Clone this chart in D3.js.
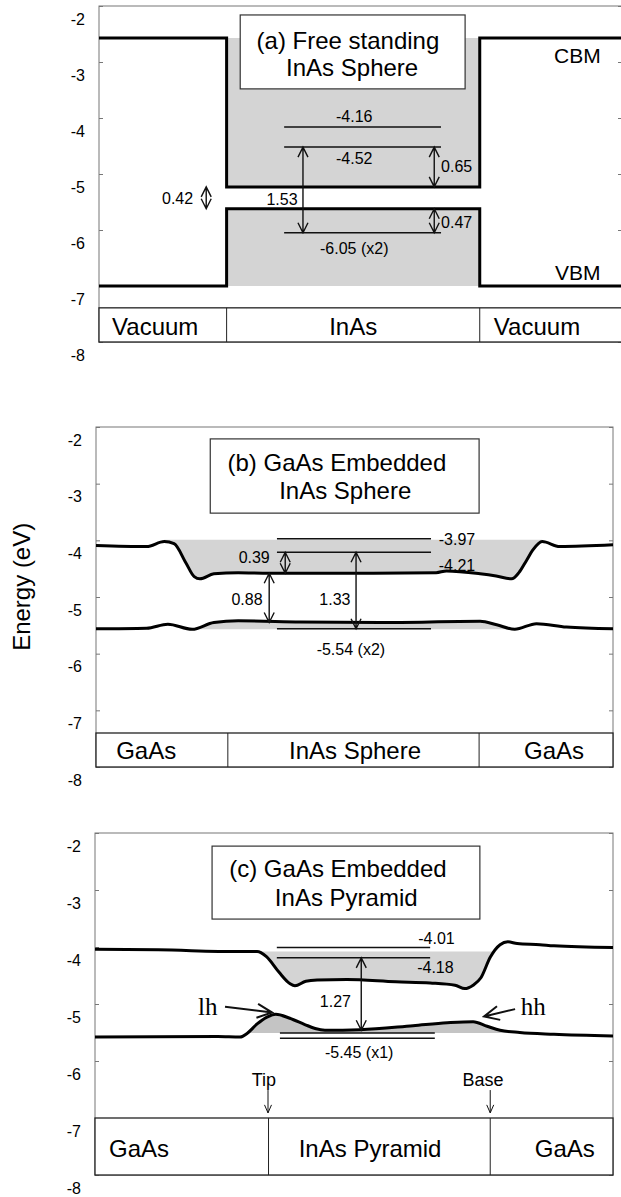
<!DOCTYPE html>
<html>
<head>
<meta charset="utf-8">
<script src="https://cdn.jsdelivr.net/npm/d3@7"></script>
<style>
    body { margin: 0; background: #fff; }
    svg { display: block; }
    text { font-family: "Liberation Sans", Arial, sans-serif; fill: #000; }
</style>
</head>
<body>
<svg id="chart" width="621" height="1197"></svg>
<script>
// energy axis (eV), same for all three panels
const yTicks = [-2, -3, -4, -5, -6, -7, -8];

// (a) free standing sphere: square well, position in % of the panel width
const aBandPos = [0, 24.4, 72.8, 100];
const aCbmE = [-2.57, -5.23, -2.57, -2.57];
const aVbmE = [-7.0, -5.62, -7.0, -7.0];
const aLevels = [
    { e: -4.16, from: 35.4, to: 65.4 },
    { e: -4.52, from: 35.4, to: 65.4 },
    { e: -6.05, from: 35.4, to: 65.4 }
];
const aGaps = [
    { x: 39.0, from: -4.52, to: -6.05 },
    { x: 64.1, from: -4.52, to: -5.23 },
    { x: 64.1, from: -5.62, to: -6.05 },
    { x: 20.5, from: -5.23, to: -5.62 }
];
const aNotes = [
    { text: "-4.16", x: 48.8, e: -4.07, anchor: "middle" },
    { text: "-4.52", x: 48.8, e: -4.82, anchor: "middle" },
    { text: "-6.05 (x2)", x: 48.8, e: -6.43, anchor: "middle" },
    { text: "1.53", x: 35.0, e: -5.55, anchor: "middle" },
    { text: "0.65", x: 65.4, e: -4.96, anchor: "start" },
    { text: "0.47", x: 65.4, e: -5.96, anchor: "start" },
    { text: "0.42", x: 18.0, e: -5.54, anchor: "end" },
    { text: "CBM", x: 87.0, e: -3.02, anchor: "start", size: 21 },
    { text: "VBM", x: 87.2, e: -6.89, anchor: "start", size: 21 }
];
const aRegions = ["Vacuum", "InAs", "Vacuum"];
const aTitle = ["(a) Free standing", "InAs Sphere"];

// (b) GaAs embedded sphere
const bCbPos = [0, 9.8, 13.2, 15.1, 17.4, 19.0, 20.1, 22.8, 27.5, 33.5, 50.3, 65.8, 67.8, 74.3, 77.4, 80.4, 81.8, 83.3, 84.5, 86.3, 89.7, 100];
const bCbE = [-4.09, -4.11, -4.02, -4.06, -4.40, -4.64, -4.68, -4.59, -4.57, -4.58, -4.58, -4.57, -4.54, -4.59, -4.63, -4.68, -4.57, -4.35, -4.17, -4.02, -4.11, -4.08];
const bVbPos = [0, 9.8, 13.9, 18.6, 22.8, 27.5, 39.5, 54.9, 74.3, 77.5, 81.0, 85.2, 91.0, 100];
const bVbE = [-5.56, -5.55, -5.48, -5.57, -5.45, -5.42, -5.44, -5.45, -5.43, -5.49, -5.57, -5.47, -5.53, -5.56];
const bLevels = [
    { e: -3.97, from: 35.0, to: 64.8 },
    { e: -4.21, from: 35.0, to: 64.8 },
    { e: -5.56, from: 35.0, to: 64.8 }
];
const bGaps = [
    { x: 36.6, from: -4.21, to: -4.58 },
    { x: 33.5, from: -4.58, to: -5.45 },
    { x: 50.3, from: -4.21, to: -5.56 }
];
const bNotes = [
    { text: "0.39", x: 30.6, e: -4.40, anchor: "middle" },
    { text: "0.88", x: 29.2, e: -5.14, anchor: "middle" },
    { text: "1.33", x: 46.2, e: -5.14, anchor: "middle" },
    { text: "-3.97", x: 66.3, e: -4.08, anchor: "start" },
    { text: "-4.21", x: 66.3, e: -4.54, anchor: "start" },
    { text: "-5.54 (x2)", x: 49.3, e: -6.02, anchor: "middle" }
];
const bRegions = ["GaAs", "InAs Sphere", "GaAs"];
const bTitle = ["(b) GaAs Embedded", "InAs Sphere"];

// (c) GaAs embedded pyramid
const cCbPos = [0, 12.2, 27.6, 31.3, 33.1, 35.5, 37.6, 38.6, 40.7, 42.9, 48.6, 58.1, 64.7, 69.5, 71.4, 73.0, 74.5, 76.3, 78.2, 79.7, 81.5, 85.9, 88.6, 100];
const cCbE = [-4.04, -4.05, -4.08, -4.08, -4.17, -4.44, -4.64, -4.68, -4.60, -4.58, -4.57, -4.61, -4.63, -4.67, -4.73, -4.67, -4.54, -4.18, -3.96, -3.91, -3.94, -3.96, -3.98, -4.01];
const cVbPos = [0, 23.7, 28.0, 29.3, 31.3, 33.2, 34.9, 37.6, 40.5, 42.5, 44.4, 51.2, 61.4, 68.0, 73.0, 75.7, 78.2, 82.0, 88.6, 100];
const cVbE = [-5.58, -5.57, -5.58, -5.52, -5.35, -5.23, -5.18, -5.25, -5.36, -5.43, -5.46, -5.45, -5.38, -5.33, -5.31, -5.39, -5.46, -5.50, -5.53, -5.56];
const cLevels = [
    { e: -4.01, from: 35.1, to: 64.7 },
    { e: -4.19, from: 35.1, to: 64.7 },
    { e: -5.51, from: 35.7, to: 65.6 },
    { e: -5.60, from: 35.7, to: 65.6 }
];
const cGaps = [
    { x: 51.4, from: -4.19, to: -5.46 }
];
const cNotes = [
    { text: "-4.01", x: 62.4, e: -3.95, anchor: "start" },
    { text: "-4.18", x: 62.2, e: -4.45, anchor: "start" },
    { text: "1.27", x: 46.4, e: -5.05, anchor: "middle" },
    { text: "-5.45 (x1)", x: 51.0, e: -5.95, anchor: "middle" },
    { text: "lh", x: 19.9, e: -5.19, anchor: "start", size: 25, serif: true },
    { text: "hh", x: 82.2, e: -5.19, anchor: "start", size: 25, serif: true },
    { text: "Tip", x: 32.6, e: -6.44, anchor: "middle", size: 18 },
    { text: "Base", x: 74.9, e: -6.44, anchor: "middle", size: 18 }
];
const cPointers = [
    { x1: 25.1, e1: -5.05, x2: 34.2, e2: -5.15, thick: true },
    { x1: 81.1, e1: -5.09, x2: 75.1, e2: -5.22, thick: true },
    { x1: 33.4, e1: -6.51, x2: 33.4, e2: -6.91, thick: false },
    { x1: 76.3, e1: -6.51, x2: 76.3, e2: -6.91, thick: false }
];
const cRegions = ["GaAs", "InAs Pyramid", "GaAs"];
const cTitle = ["(c) GaAs Embedded", "InAs Pyramid"];

const svg = d3.select("#chart");
const GRAY = "#d4d4d4";

const panels = [
    {
        id: "a",
        frame: { left: 99, top: 6, right: 622, bottom: 342 },
        curve: d3.curveStepAfter,
        bands: [d3.zip(aBandPos, aCbmE), d3.zip(aBandPos, aVbmE)],
        fills: [
            { pts: [[24.4, -5.23], [72.8, -5.23]], level: -2.57, range: [24.4, 72.8], color: GRAY },
            { pts: [[24.4, -5.62], [72.8, -5.62]], level: -7.0, range: [24.4, 72.8], color: GRAY }
        ],
        levels: aLevels, gaps: aGaps, notes: aNotes, pointers: [],
        regions: aRegions, regionEdges: [24.4, 72.8], regionTop: -7.39, regionBase: -7.875,
        regionLabelX: [{ x: 2.5, anchor: "start" }, { x: 48.6, anchor: "middle" }, { x: 75.5, anchor: "start" }],
        title: aTitle, titleBox: { x0: 27.0, x1: 70.0, e0: -2.16, e1: -3.48 },
        titleLines: [{ x: 47.6, e: -2.77 }, { x: 48.4, e: -3.25 }]
    },
    {
        id: "b",
        frame: { left: 96, top: 427, right: 613, bottom: 767 },
        curve: d3.curveMonotoneX,
        bands: [d3.zip(bCbPos, bCbE), d3.zip(bVbPos, bVbE)],
        fills: [
            { pts: d3.zip(bCbPos, bCbE), level: -3.99, range: [13.2, 86.3], color: GRAY },
            { pts: d3.zip(bVbPos, bVbE), level: -5.57, range: [18.6, 81.0], color: GRAY }
        ],
        levels: bLevels, gaps: bGaps, notes: bNotes, pointers: [],
        regions: bRegions, regionEdges: [25.5, 74.1], regionTop: -7.40, regionBase: -7.86,
        regionLabelX: [{ x: 3.9, anchor: "start" }, { x: 50.1, anchor: "middle" }, { x: 82.8, anchor: "start" }],
        title: bTitle, titleBox: { x0: 22.1, x1: 74.1, e0: -2.21, e1: -3.52 },
        titleLines: [{ x: 46.6, e: -2.78 }, { x: 48.2, e: -3.27 }],
        yLabel: "Energy (eV)"
    },
    {
        id: "c",
        frame: { left: 95, top: 833, right: 613, bottom: 1175 },
        curve: d3.curveMonotoneX,
        bands: [d3.zip(cCbPos, cCbE), d3.zip(cVbPos, cVbE)],
        fills: [
            { pts: d3.zip(cCbPos, cCbE), level: -4.08, range: [31.3, 77.2], color: GRAY },
            { pts: d3.zip(cVbPos, cVbE), level: -5.51, range: [29.5, 79.5], color: "#c4c4c4" }
        ],
        levels: cLevels, gaps: cGaps, notes: cNotes, pointers: cPointers,
        regions: cRegions, regionEdges: [33.5, 76.3], regionTop: -7.0, regionBase: -7.68,
        regionLabelX: [{ x: 2.7, anchor: "start" }, { x: 53.1, anchor: "middle" }, { x: 84.9, anchor: "start" }],
        title: cTitle, titleBox: { x0: 22.6, x1: 74.3, e0: -2.23, e1: -3.51 },
        titleLines: [{ x: 46.9, e: -2.77 }, { x: 48.5, e: -3.28 }]
    }
];

panels.forEach(renderPanel);

function renderPanel(cfg) {
    const f = cfg.frame;
    const x = d3.scaleLinear().domain([0, 100]).range([f.left, f.right]);
    const y = d3.scaleLinear().domain([-2, -8]).range([f.top, f.bottom]);
    const g = svg.append("g");

    // gray fills of the well, each clipped to its own x range
    cfg.fills.forEach((fl, i) => {
        const id = `fill-${cfg.id}-${i}`;
        svg.append("clipPath").attr("id", id)
            .append("rect")
            .attr("x", x(fl.range[0]))
            .attr("y", f.top)
            .attr("width", x(fl.range[1]) - x(fl.range[0]))
            .attr("height", f.bottom - f.top);

        const area = d3.area()
            .curve(cfg.id === "a" ? d3.curveLinear : d3.curveMonotoneX)
            .x((d) => x(d[0]))
            .y0(y(fl.level))
            .y1((d) => y(d[1]));

        g.append("path")
            .datum(fl.pts)
            .attr("clip-path", `url(#${id})`)
            .attr("fill", fl.color)
            .attr("d", area);
    });

    // frame
    g.append("rect")
        .attr("x", f.left).attr("y", f.top)
        .attr("width", f.right - f.left).attr("height", f.bottom - f.top)
        .attr("fill", "none")
        .attr("stroke", "#777")
        .attr("stroke-width", 1);

    // axes with inward ticks, labels sit a bit below their ticks like the original
    const left = g.append("g")
        .attr("transform", `translate(${f.left},0)`)
        .call(d3.axisLeft(y).tickValues(yTicks).tickSize(-4).tickPadding(14).tickFormat((d) => String(d)));
    left.selectAll("text")
        .attr("dy", 18)
        .attr("font-size", 16)
        .attr("fill", "#000");

    const right = g.append("g")
        .attr("transform", `translate(${f.right},0)`)
        .call(d3.axisRight(y).tickValues(yTicks).tickSize(-4).tickFormat(""));

    g.selectAll(".domain").remove();
    g.selectAll(".tick line").attr("stroke", "#777");
    left.attr("font-family", null);
    right.attr("font-family", null);

    // title box
    const tb = cfg.titleBox;
    g.append("rect")
        .attr("x", x(tb.x0)).attr("y", y(tb.e0))
        .attr("width", x(tb.x1) - x(tb.x0)).attr("height", y(tb.e1) - y(tb.e0))
        .attr("fill", "#fff")
        .attr("stroke", "#333")
        .attr("stroke-width", 1.2);

    g.selectAll(".title-line")
        .data(cfg.title)
        .join("text")
        .attr("x", (d, i) => x(cfg.titleLines[i].x))
        .attr("y", (d, i) => y(cfg.titleLines[i].e))
        .attr("text-anchor", "middle")
        .attr("font-size", 24)
        .text((d) => d);

    // energy levels
    g.selectAll(".level")
        .data(cfg.levels)
        .join("line")
        .attr("x1", (d) => x(d.from))
        .attr("x2", (d) => x(d.to))
        .attr("y1", (d) => y(d.e))
        .attr("y2", (d) => y(d.e))
        .attr("stroke", "#111")
        .attr("stroke-width", 1.5);

    // band edges
    const line = d3.line()
        .curve(cfg.curve)
        .x((d) => x(d[0]))
        .y((d) => y(d[1]));

    g.selectAll(".band")
        .data(cfg.bands)
        .join("path")
        .attr("fill", "none")
        .attr("stroke", "#000")
        .attr("stroke-width", 3)
        .attr("stroke-linejoin", "miter")
        .attr("d", line);

    // double headed gap arrows
    g.selectAll(".gap")
        .data(cfg.gaps)
        .join("path")
        .attr("fill", "none")
        .attr("stroke", "#111")
        .attr("stroke-width", 1.4)
        .attr("d", (d) => gapArrow(x(d.x), y(d.from), y(d.to)));

    // single pointers (lh, hh, Tip, Base)
    g.selectAll(".pointer")
        .data(cfg.pointers)
        .join("path")
        .attr("fill", "none")
        .attr("stroke", "#111")
        .attr("stroke-width", (d) => d.thick ? 2 : 1)
        .attr("d", (d) => pointer(x(d.x1), y(d.e1), x(d.x2), y(d.e2), d.thick ? 15 : 8, d.thick ? 7 : 3.5));

    g.selectAll(".note")
        .data(cfg.notes)
        .join("text")
        .attr("x", (d) => x(d.x))
        .attr("y", (d) => y(d.e))
        .attr("text-anchor", (d) => d.anchor)
        .attr("font-size", (d) => d.size || 16)
        .style("font-family", (d) => d.serif ? "'Liberation Serif', 'Times New Roman', serif" : null)
        .text((d) => d.text);

    // material strip along the bottom
    g.append("rect")
        .attr("x", f.left).attr("y", y(cfg.regionTop))
        .attr("width", f.right - f.left).attr("height", y(-8) - y(cfg.regionTop))
        .attr("fill", "#fff")
        .attr("stroke", "#222")
        .attr("stroke-width", 1.3);

    g.selectAll(".divider")
        .data(cfg.regionEdges)
        .join("line")
        .attr("x1", (d) => x(d)).attr("x2", (d) => x(d))
        .attr("y1", y(cfg.regionTop)).attr("y2", y(-8))
        .attr("stroke", "#222")
        .attr("stroke-width", 1);

    g.selectAll(".region")
        .data(cfg.regions)
        .join("text")
        .attr("x", (d, i) => x(cfg.regionLabelX[i].x))
        .attr("y", y(cfg.regionBase))
        .attr("text-anchor", (d, i) => cfg.regionLabelX[i].anchor)
        .attr("font-size", 24)
        .text((d) => d);

    if (cfg.yLabel) {
        svg.append("text")
            .attr("transform", `translate(30, ${y(-4.82)}) rotate(-90)`)
            .attr("text-anchor", "middle")
            .attr("font-size", 24)
            .text(cfg.yLabel);
    }
}

function gapArrow(px, ya, yb) {
    const top = Math.min(ya, yb);
    const bot = Math.max(ya, yb);
    const len = Math.min(10, (bot - top) / 2);
    const w = 5;
    return `M${px},${top}L${px},${bot}` +
        `M${px - w},${top + len}L${px},${top}L${px + w},${top + len}` +
        `M${px - w},${bot - len}L${px},${bot}L${px + w},${bot - len}`;
}

function pointer(x1, y1, x2, y2, len, half) {
    const a = Math.atan2(y2 - y1, x2 - x1);
    const bx = x2 - len * Math.cos(a);
    const by = y2 - len * Math.sin(a);
    const nx = -Math.sin(a) * half;
    const ny = Math.cos(a) * half;
    return `M${x1},${y1}L${x2},${y2}` +
        `M${bx + nx},${by + ny}L${x2},${y2}L${bx - nx},${by - ny}`;
}
</script>
</body>
</html>
